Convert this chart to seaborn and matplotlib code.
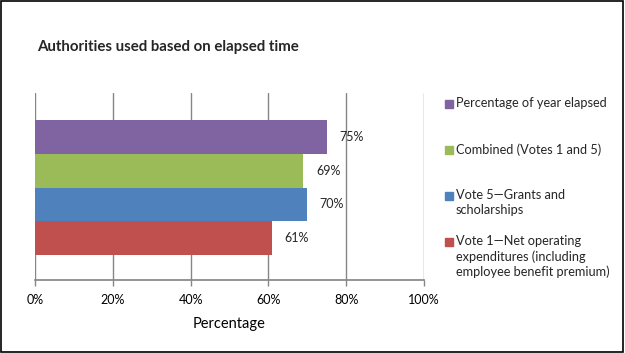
import pandas as pd
import seaborn as sns
import matplotlib.pyplot as plt
from matplotlib.patches import Rectangle
from matplotlib.ticker import PercentFormatter

# Data (top to bottom as drawn)
series = ['Percentage of year elapsed',
          'Combined (Votes 1 and 5)',
          'Vote 5\u2014Grants and\nscholarships',
          'Vote 1\u2014Net operating\nexpenditures (including\nemployee benefit premium)']
values = [75, 69, 70, 61]
colors = ['#8064A2', '#9BBB59', '#4F81BD', '#C0504D']

df = pd.DataFrame({'series': series, 'value': values})

sns.set_theme(style="white")
plt.rcParams['font.family'] = ['Lato', 'DejaVu Sans']

fig = plt.figure(figsize=(6.25, 3.53), dpi=100)
ax = fig.add_axes([0.056, 0.2068, 0.6224, 0.5297])

sns.barplot(data=df, y='series', x='value', hue='series', palette=colors,
            width=1.0, legend=False, ax=ax, saturation=1, linewidth=0)

ax.set_xlim(0, 100)
ax.set_ylim(4.24, -1.3)
ax.xaxis.set_major_formatter(PercentFormatter(decimals=0))
ax.set_xticks(range(0, 101, 20))
ax.set_yticks([])
ax.set_ylabel('')
ax.set_xlabel('Percentage', fontsize=10.5, labelpad=8, color='black')
ax.tick_params(axis='x', labelsize=9, colors='black', length=4, width=1,
               direction='out', color='#868686', bottom=True, pad=6)

for s in ['top', 'right', 'left']:
    ax.spines[s].set_visible(False)
ax.spines['bottom'].set_color('#868686')
ax.grid(axis='x', color='#868686', linewidth=1)
ax.set_axisbelow(True)

for c in ax.containers:
    ax.bar_label(c, fmt='%d%%', padding=9, fontsize=9)

fig.text(0.059, 0.868, 'Authorities used based on elapsed time',
         fontsize=10.8, fontweight='bold', va='center')

# legend drawn beside the plot, entries evenly spaced like the original
for i, (name, col) in enumerate(zip(series, colors)):
    y = 353 - (104 + 46 * i)
    fig.patches.append(Rectangle((445 / 625, (y - 4) / 353), 8 / 625, 8 / 353,
                                 transform=fig.transFigure, color=col))
    fig.text(456 / 625, (y + 7) / 353, name, fontsize=9.2, va='top',
             linespacing=1.3)

fig.patches.append(Rectangle((0.001, 0.002), 0.996, 0.995, transform=fig.transFigure,
                             fill=False, edgecolor='black', linewidth=1.2))

fig.savefig('out.png', dpi=100)
